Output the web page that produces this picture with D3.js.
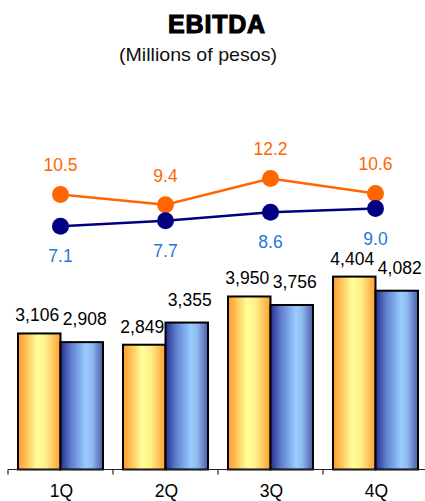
<!DOCTYPE html>
<html>
<head>
<meta charset="utf-8">
<script src="https://cdn.jsdelivr.net/npm/d3@7"></script>
<style>
  html, body { margin: 0; padding: 0; background: #fff; }
  svg { display: block; }
</style>
</head>
<body>
<svg id="chart" width="425" height="501"></svg>
<script>
// Quarterly EBITDA (millions of pesos) and margin (%)
const quarters = ["1Q", "2Q", "3Q", "4Q"];
const ebitdaOrange = [3106, 2849, 3950, 4404];
const ebitdaBlue = [2908, 3355, 3756, 4082];
const marginOrange = [10.5, 9.4, 12.2, 10.6];
const marginBlue = [7.1, 7.7, 8.6, 9.0];
const titleText = "EBITDA";
const subtitleText = "(Millions of pesos)";

const svg = d3.select("#chart");
const font = "'Liberation Sans', Arial, sans-serif";
const fmt = d3.format(",");

// Scales
const x = d3.scaleBand().domain(quarters).range([8, 428]).padding(0);
const xSeries = d3.scaleBand().domain(["orange", "blue"])
  .range([0, x.bandwidth()]).paddingInner(0).paddingOuter(0.235);
const yBar = d3.scaleLinear().domain([0, 10000]).range([469.5, 31.5]);
const yLine = d3.scaleLinear().domain([6, 13]).range([236.7, 170.9]);

// Gradients for the bars
const defs = svg.append("defs");
function hGrad(id, stops) {
  const g = defs.append("linearGradient").attr("id", id)
    .attr("x1", "0%").attr("x2", "100%").attr("y1", "0%").attr("y2", "0%");
  stops.forEach(([o, c]) => g.append("stop").attr("offset", o).attr("stop-color", c));
}
hGrad("gOrange", [["0%", "#FF9A2E"], ["20%", "#FFC45A"], ["45%", "#FFFF99"], ["65%", "#FFF08A"], ["100%", "#FF9E33"]]);
hGrad("gBlue", [["0%", "#2A2E8C"], ["25%", "#5F7FD0"], ["60%", "#99CCFF"], ["75%", "#8DB8EE"], ["100%", "#4A5CA8"]]);

// Title
svg.append("text").attr("x", 217).attr("y", 33).attr("text-anchor", "middle")
  .attr("font-family", font).attr("font-weight", "bold").attr("font-size", 25)
  .attr("letter-spacing", 0.8)
  .attr("stroke", "#000").attr("stroke-width", 1.1).attr("fill", "#000")
  .text(titleText);
svg.append("text").attr("x", 198).attr("y", 61).attr("text-anchor", "middle")
  .attr("font-family", font).attr("font-size", 19).attr("fill", "#111")
  .attr("textLength", 158).attr("lengthAdjust", "spacingAndGlyphs")
  .text(subtitleText);

// Bars
const series = [
  { key: "orange", values: ebitdaOrange, fill: "url(#gOrange)", dx: -2, dy: 12 },
  { key: "blue", values: ebitdaBlue, fill: "url(#gBlue)", dx: 3, dy: 17 }
];
series.forEach(s => {
  const g = svg.append("g");
  g.selectAll("rect").data(quarters).join("rect")
    .attr("x", q => x(q) + xSeries(s.key))
    .attr("y", (q, i) => yBar(s.values[i]))
    .attr("width", xSeries.bandwidth())
    .attr("height", (q, i) => yBar(0) - yBar(s.values[i]))
    .attr("fill", s.fill)
    .attr("stroke", "#000").attr("stroke-width", 2);
  g.selectAll("text").data(quarters).join("text")
    .attr("x", q => x(q) + xSeries(s.key) + xSeries.bandwidth() / 2 + s.dx)
    .attr("y", (q, i) => yBar(s.values[i]) - s.dy)
    .attr("text-anchor", "middle")
    .attr("font-family", font).attr("font-size", 17.5).attr("fill", "#000")
    .text((q, i) => fmt(s.values[i]));
});

// Category axis
const axis = svg.append("g").attr("transform", `translate(0,${yBar(0)})`)
  .call(d3.axisBottom(x).tickSize(0).tickPadding(0).tickFormat(""));
axis.select(".domain").attr("stroke", "#222").attr("stroke-width", 1.2)
  .attr("d", "M8,0H428");
axis.selectAll(".tick").remove();
svg.append("g").selectAll("line").data(quarters.concat(["end"])).join("line")
  .attr("x1", (q, i) => 8 + i * x.step()).attr("x2", (q, i) => 8 + i * x.step())
  .attr("y1", yBar(0)).attr("y2", yBar(0) + 5)
  .attr("stroke", "#222").attr("stroke-width", 1.2);
svg.append("g").selectAll("text").data(quarters).join("text")
  .attr("x", q => x(q) + x.bandwidth() / 2 + 1)
  .attr("y", 497)
  .attr("text-anchor", "middle")
  .attr("font-family", font).attr("font-size", 17.5).attr("fill", "#000")
  .text(q => q);

// Margin lines
const lines = [
  { values: marginOrange, color: "#FF6600", labelColor: "#FF6600", dy: -23 },
  { values: marginBlue, color: "#000080", labelColor: "#1F78D8", dy: 36 }
];
lines.forEach(l => {
  const g = svg.append("g");
  const line = d3.line().x((v, i) => x(quarters[i]) + x.bandwidth() / 2).y(v => yLine(v));
  g.append("path").datum(l.values).attr("d", line)
    .attr("fill", "none").attr("stroke", l.color).attr("stroke-width", 2.5);
  g.selectAll("circle").data(l.values).join("circle")
    .attr("cx", (v, i) => x(quarters[i]) + x.bandwidth() / 2)
    .attr("cy", v => yLine(v)).attr("r", 8.5)
    .attr("fill", l.color);
  g.selectAll("text").data(l.values).join("text")
    .attr("x", (v, i) => x(quarters[i]) + x.bandwidth() / 2)
    .attr("y", v => yLine(v) + l.dy)
    .attr("text-anchor", "middle")
    .attr("font-family", font).attr("font-size", 17.5).attr("fill", l.labelColor)
    .text(v => d3.format(".1f")(v));
});
</script>
</body>
</html>
